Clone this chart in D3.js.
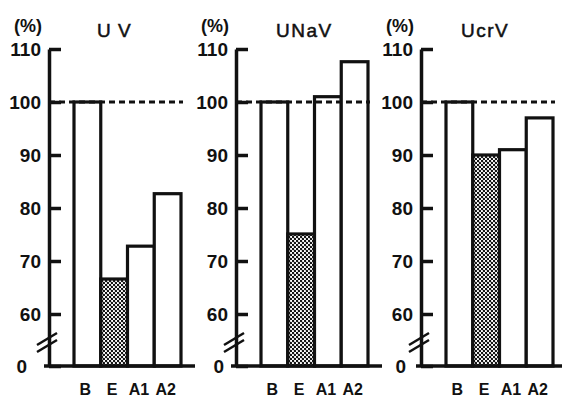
<!DOCTYPE html>
<html>
<head>
<meta charset="utf-8">
<script src="https://cdn.jsdelivr.net/npm/d3@7"></script>
<style>
  body { margin: 0; background: #fff; }
  svg { display: block; }
  .tick-label { font-family: "Liberation Sans", Arial, sans-serif; font-weight: bold; font-size: 19px; fill: #111; }
</style>
</head>
<body>
<svg width="562" height="398"></svg>
<script>
var width = 562;
var height = 398;

// data
var categories = ["B", "E", "A1", "A2"];
var panelTitles = ["U V", "UNaV", "UcrV"];
var uvValues = [100, 66.6, 72.8, 82.7];
var unavValues = [100, 75.1, 101, 107.6];
var ucrvValues = [100, 90, 91, 97];
var tickValues = [0, 60, 70, 80, 90, 100, 110];
var refValue = 100;

var panels = [
    { title: panelTitles[0], values: uvValues, axisX: 49, zeroShift: -14 },
    { title: panelTitles[1], values: unavValues, axisX: 236, zeroShift: -4 },
    { title: panelTitles[2], values: ucrvValues, axisX: 421, zeroShift: -7 }
];

var chart = d3.select("svg");

// dotted pattern for E bars
var defs = chart.append("defs");
var pat = defs.append("pattern")
    .attr("id", "dots")
    .attr("patternUnits", "userSpaceOnUse")
    .attr("width", 4)
    .attr("height", 4);
pat.append("rect").attr("width", 4).attr("height", 4).attr("fill", "#fff");
pat.append("circle").attr("cx", 1).attr("cy", 1).attr("r", 1.25).attr("fill", "#111");
pat.append("circle").attr("cx", 3).attr("cy", 3).attr("r", 1.25).attr("fill", "#111");

// broken y scale: 0 sits just below 60
var y = d3.scaleLinear().domain([0, 60, 110]).range([366, 314, 49]);

panels.forEach(function (p, i) {
    var g = chart.append("g").attr("transform", "translate(" + p.axisX + ",0)");

    var x = d3.scaleBand().domain(categories).range([25, 132]).paddingInner(0);

    // bars
    g.selectAll(".bar")
        .data(p.values)
        .enter()
        .append("rect")
        .attr("x", function (d, j) { return x(categories[j]); })
        .attr("y", function (d) { return y(d); })
        .attr("width", x.bandwidth())
        .attr("height", function (d) { return y(0) - y(d); })
        .attr("fill", function (d, j) { return categories[j] === "E" ? "url(#dots)" : "#fff"; })
        .attr("stroke", "#111")
        .attr("stroke-width", 3.2);

    // dashed reference line at 100
    g.append("line")
        .attr("x1", 0).attr("x2", 134)
        .attr("y1", y(refValue)).attr("y2", y(refValue))
        .attr("stroke", "#111")
        .attr("stroke-width", 2.8)
        .attr("stroke-dasharray", "6,4");

    // baseline
    g.append("line")
        .attr("x1", -5).attr("x2", 146)
        .attr("y1", y(0)).attr("y2", y(0))
        .attr("stroke", "#111")
        .attr("stroke-width", 3.5);

    // y axis
    var yAxis = d3.axisLeft(y)
        .tickValues(tickValues)
        .tickFormat(d3.format("d"))
        .tickSizeInner(-12)
        .tickSizeOuter(0)
        .tickPadding(8);
    var ag = g.append("g").call(yAxis);
    ag.select(".domain").attr("stroke", "#111").attr("stroke-width", 3.5);
    ag.selectAll(".tick line").attr("stroke", "#111").attr("stroke-width", 3.5);
    ag.selectAll(".tick text")
        .attr("class", "tick-label")
        .attr("font-family", null)
        .attr("font-size", null)
        .attr("dy", "0.36em")
        .attr("dx", function (d) { return d === 0 ? p.zeroShift : 0; })
        .attr("fill", "#111");

    // break marks
    [0, 7].forEach(function (off) {
        g.append("line")
            .attr("x1", -12).attr("y1", 345 + off)
            .attr("x2", 8).attr("y2", 333 + off)
            .attr("stroke", "#111")
            .attr("stroke-width", 2.5);
    });

    // unit label
    g.append("text")
        .attr("x", -35).attr("y", 32)
        .attr("font-family", "Liberation Sans, Arial, sans-serif")
        .attr("font-weight", "bold")
        .attr("font-size", "18px")
        .attr("fill", "#111")
        .text("(%)");

    // panel title
    g.append("text")
        .attr("x", i === 0 ? 48 : 40).attr("y", 37)
        .attr("font-family", "Liberation Sans, Arial, sans-serif")
        .attr("font-size", "19px")
        .attr("letter-spacing", i === 0 ? "1px" : "1.5px")
        .attr("stroke", "#111")
        .attr("stroke-width", 0.5)
        .attr("fill", "#111")
        .text(p.title);

    // category labels
    g.selectAll(".cat")
        .data(categories)
        .enter()
        .append("text")
        .attr("x", function (d) { return x(d) + x.bandwidth() / 2 - 2; })
        .attr("y", 395)
        .attr("text-anchor", "middle")
        .attr("font-family", "Liberation Sans, Arial, sans-serif")
        .attr("font-weight", "bold")
        .attr("font-size", "16px")
        .attr("fill", "#111")
        .text(function (d) { return d; });
});
</script>
</body>
</html>
